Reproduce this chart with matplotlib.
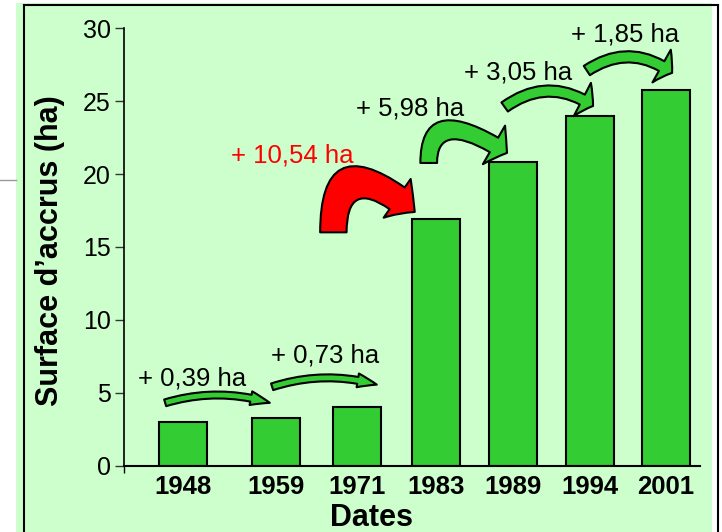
import matplotlib.pyplot as plt
from matplotlib.patches import FancyArrowPatch, Rectangle
from matplotlib.lines import Line2D

plt.rcParams['font.family'] = ['Liberation Sans', 'DejaVu Sans']

years = ['1948', '1959', '1971', '1983', '1989', '1994', '2001']
surface = [2.96, 3.24, 4.04, 16.9, 20.8, 24.0, 25.8]
xpos = [0, 1.2, 2.245, 3.265, 4.258, 5.25, 6.23]
gains = ['+ 0,39 ha', '+ 0,73 ha', '+ 10,54 ha', '+ 5,98 ha', '+ 3,05 ha', '+ 1,85 ha']

# label positions and arrow (tail, head, connection, tail_w, head_w, head_l)
label_pos = [(0.116, 6.0), (1.83, 7.58), (1.41, 21.3), (2.93, 24.5), (4.32, 27.0), (5.70, 29.55)]
arrows = [((-0.23, 4.3), (1.12, 4.3), 'arc3,rad=-0.15', 5, 10, 14),
          ((1.15, 5.4), (2.50, 5.55), 'arc3,rad=-0.15', 5, 10, 14),
          ((1.94, 16.0), (2.99, 17.4), 'angle3,angleA=90,angleB=-40', 19, 34, 16),
          ((3.17, 20.76), (4.18, 21.45), 'angle3,angleA=90,angleB=-33', 12, 32, 11),
          ((4.15, 24.6), (5.29, 24.67), 'arc3,rad=-0.35', 8, 27, 9),
          ((5.21, 27.1), (6.31, 26.94), 'arc3,rad=-0.35', 8, 27, 9)]

fig = plt.figure(figsize=(7.22, 5.32), dpi=100)
fig.patch.set_facecolor('white')

# slide-like frame
fig.add_artist(Rectangle((16/722, 0), (712-16)/722, 1 - 3/532, transform=fig.transFigure,
                         facecolor='#ccffcc', edgecolor='none', zorder=0))
fig.add_artist(Line2D([24/722, 24/722], [0, 1 - 5/532], transform=fig.transFigure, color='black', lw=1.5))
fig.add_artist(Line2D([24/722, 718/722], [1 - 5/532, 1 - 5/532], transform=fig.transFigure, color='black', lw=1.5))
fig.add_artist(Line2D([718/722, 718/722], [0, 1 - 5/532], transform=fig.transFigure, color='black', lw=1.5))
fig.add_artist(Line2D([0, 16/722], [1 - 180/532, 1 - 180/532], transform=fig.transFigure, color='#999999', lw=1))

ax = fig.add_axes([124/722, 66.5/532, 576/722, 437.2/532])
ax.patch.set_visible(False)

ax.bar(xpos, surface, width=0.62, color='#33cc33', edgecolor='black', linewidth=1.5, zorder=2)

ax.set_xlim(-0.761, 6.67)
ax.set_ylim(0, 30)
ax.set_yticks([0, 5, 10, 15, 20, 25, 30])
ax.set_xticks(xpos)
ax.set_xticklabels(years, fontweight='bold', fontsize=18.5)
ax.tick_params(axis='x', length=0, pad=7)
ax.tick_params(axis='y', labelsize=18, length=6.5, width=1, pad=3, color='#333333')
ax.set_xticks([-0.761], minor=True)
ax.tick_params(axis='x', which='minor', length=5, width=1)
for s in ['top', 'right']:
    ax.spines[s].set_visible(False)
ax.spines['left'].set_linewidth(1.2)
ax.spines['bottom'].set_linewidth(1.5)

for (tail, head, conn, tw, hw, hl), txt, (lx, ly) in zip(arrows, gains, label_pos):
    red = txt == '+ 10,54 ha'
    arr = FancyArrowPatch(tail, head, connectionstyle=conn,
                          arrowstyle='simple,tail_width=%s,head_width=%s,head_length=%s' % (tw, hw, hl),
                          mutation_scale=1, shrinkA=0, shrinkB=0,
                          facecolor='#ff0000' if red else '#33cc33', edgecolor='black',
                          linewidth=1.5, clip_on=False, zorder=3)
    ax.add_patch(arr)
    ax.text(lx, ly, txt, ha='center', va='center', fontsize=18.5,
            color='#ff0000' if red else 'black', clip_on=False)

fig.text(372/722, 1 - 518/532, 'Dates', ha='center', va='center', fontsize=22, fontweight='bold')
fig.text(50/722, 1 - 251/532, 'Surface d\u2019accrus (ha)', ha='center', va='center',
         rotation=90, fontsize=22, fontweight='bold')

fig.savefig('out.png', dpi=100)
